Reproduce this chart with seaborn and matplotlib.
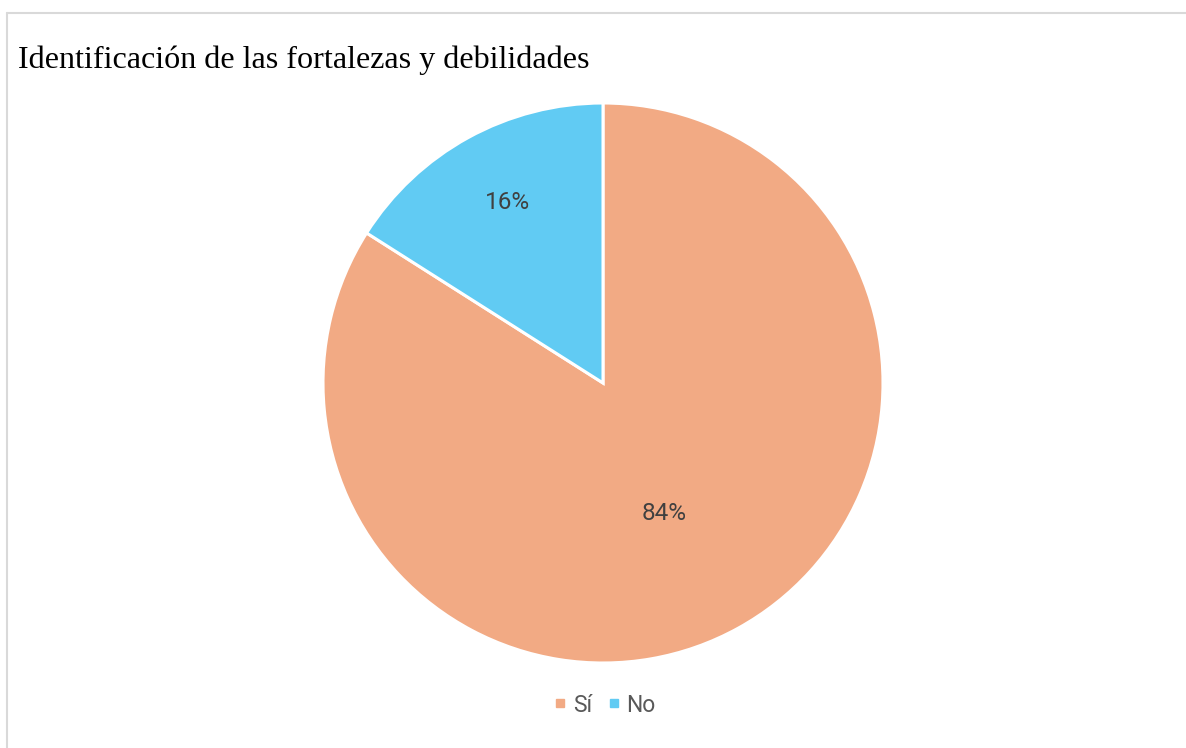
import numpy as np
import seaborn as sns
import matplotlib.pyplot as plt
from matplotlib.lines import Line2D

# data
categories = ["Sí", "No"]
shares = [84, 16]
colors = ["#F2AA84", "#61CBF3"]
title = "Identificación de las fortalezas y debilidades"

sns.set_theme(style="white")
plt.rcParams["font.family"] = ["Roboto", "DejaVu Sans"]

W, H = 1186, 748
fig = plt.figure(figsize=(W / 100, H / 100), dpi=100)

# pie area: center (603, 383), radius 280 px
cx, cy, r = 603, 383, 280
ax = fig.add_axes([(cx - r) / W, (H - cy - r) / H, 2 * r / W, 2 * r / H])
wedges, texts, autotexts = ax.pie(
    shares,
    colors=colors,
    startangle=90,
    counterclock=False,
    autopct="%d%%",
    pctdistance=0.6,
    wedgeprops=dict(edgecolor="white", linewidth=2.2),
    textprops=dict(color="#404040", fontsize=17.5),
)
# Excel-like label placement (radius, angle shift in degrees)
label_radius = [0.516, 0.73]
label_shift = [-3.8, -1.1]
for w, t, lr, sh in zip(wedges, autotexts, label_radius, label_shift):
    mid = np.deg2rad((w.theta1 + w.theta2) / 2 + sh)
    t.set_position((lr * np.cos(mid), lr * np.sin(mid)))
ax.set_xlim(-1, 1)
ax.set_ylim(-1, 1)
ax.set_aspect("equal")
ax.axis("off")

fig.text(18 / W, 1 - 68 / H, title, family="Liberation Serif", fontsize=23.1,
         color="black", ha="left", va="baseline")

handles = [Line2D([], [], marker="s", linestyle="", markersize=6,
                  markerfacecolor=c, markeredgecolor=c) for c in colors]
fig.legend(handles, categories, loc="center", bbox_to_anchor=(602 / W, 1 - 705 / H),
           ncol=2, frameon=False, fontsize=16.5, labelcolor="#595959",
           handletextpad=0.05, columnspacing=0.45, handlelength=1.0)

# chart border (top and left visible)
fig.add_artist(Line2D([7 / W, 1], [1 - 13 / H, 1 - 13 / H], color="#d9d9d9",
                      linewidth=1.5, transform=fig.transFigure))
fig.add_artist(Line2D([7 / W, 7 / W], [0, 1 - 13 / H], color="#d9d9d9",
                      linewidth=1.5, transform=fig.transFigure))

fig.savefig("out.png", dpi=100)
